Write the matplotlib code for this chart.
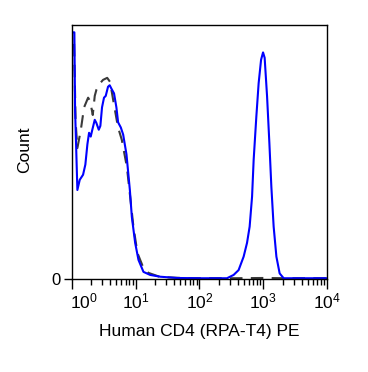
import numpy as np
import matplotlib
matplotlib.use("Agg")
import matplotlib.pyplot as plt
from matplotlib.transforms import ScaledTranslation

plt.rcParams['font.family'] = ['Liberation Sans', 'DejaVu Sans']
plt.rcParams['mathtext.fontset'] = 'custom'
plt.rcParams['mathtext.rm'] = 'Liberation Sans'
plt.rcParams['mathtext.it'] = 'Liberation Sans'

# stained sample (blue), log10 of PE intensity vs count (% of axis height)
stained_log = [0.0, 0.005, 0.041, 0.052, 0.067, 0.088, 0.125, 0.177, 0.213, 0.245, 0.271,
               0.297, 0.322, 0.36, 0.385, 0.423, 0.448, 0.474, 0.505, 0.532, 0.568, 0.594,
               0.62, 0.662, 0.699, 0.726, 0.768, 0.805, 0.857, 0.91, 0.941, 0.993, 1.045,
               1.123, 1.228, 1.385, 1.647, 2.013, 2.431, 2.535, 2.613, 2.692, 2.745, 2.786,
               2.824, 2.849, 2.891, 2.927, 2.965, 2.996, 3.021, 3.059, 3.095, 3.126, 3.162,
               3.205, 3.256, 3.319, 3.6, 4.0]
stained_count = [0, 97, 97, 66.5, 53.5, 35, 39, 41, 45, 53, 57.5,
                 56, 58.7, 62.6, 61.4, 58.7, 60.2, 67.5, 71.3, 72, 75.6, 76.2,
                 74.9, 73, 67.5, 61.6, 59.6, 56.8, 49, 35, 24.4, 14.2, 7.5,
                 2.8, 1.6, 0.9, 0.4, 0.3, 0.3, 1.6, 3.5, 8.8, 14.2, 20.6,
                 32.4, 46.9, 63.9, 77.0, 86.2, 89.1, 87.0, 71.8, 53.5, 36.3, 20.6,
                 8.8, 2.2, 0.3, 0.3, 0.3]

# isotype control (gray dashed)
control_log = [0.0, 0.005, 0.035, 0.06, 0.088, 0.141, 0.193, 0.256, 0.287, 0.329, 0.36,
               0.386, 0.438, 0.49, 0.555, 0.6, 0.648, 0.723, 0.784, 0.863, 0.915, 0.966,
               1.029, 1.123, 1.202, 1.385, 1.8, 2.5, 3.0, 3.4, 4.0]
control_count = [0, 95, 95, 62, 51.5, 58.5, 67.5, 71.3, 70, 64.5, 72,
                 74.4, 76.8, 78.3, 79.1, 77.5, 70.5, 59.8, 54.7, 44.1, 32.3, 20.5,
                 10.2, 4.3, 2.4, 0.8, 0.3, 0.3, 0.4, 0.3, 0.3]

xticks = [1, 10, 100, 1000, 10000]
xticklabels = [r'$10^{0}$', r'$10^{1}$', r'$10^{2}$', r'$10^{3}$', r'$10^{4}$']

fig = plt.figure(figsize=(3.68, 3.72), dpi=100)
ax = fig.add_axes([0.195, 0.25, 0.694, 0.6836])

ax.plot(10 ** np.array(control_log), control_count, color='#3a3a3a', lw=1.5,
        dashes=(6, 4))
ax.plot(10 ** np.array(stained_log), stained_count, color='#0000ff', lw=1.5)

ax.set_xscale('log')
ax.set_xlim(1, 10000)
ax.set_ylim(0, 100)
ax.set_xticks(xticks)
ax.set_xticklabels(xticklabels, fontsize=12.5)
ax.set_yticks([0])
ax.set_yticklabels(['0'], fontsize=12)
ax.tick_params(axis='x', which='major', direction='out', length=7, width=1, pad=2)
ax.tick_params(axis='x', which='minor', direction='out', length=4, width=1)
ax.tick_params(axis='y', direction='out', length=6, width=1, pad=2)

# first label sits to the right of the axis corner in the reference
lab0 = ax.get_xticklabels()[0]
lab0.set_transform(lab0.get_transform() + ScaledTranslation(12 / 100, 0, fig.dpi_scale_trans))

for s in ax.spines.values():
    s.set_linewidth(1)
    s.set_color('black')

ax.set_xlabel('Human CD4 (RPA-T4) PE', fontsize=12.5, va='center')
ax.xaxis.set_label_coords(0.5, -0.205)
ax.set_ylabel('Count', fontsize=12.5, va='center')
ax.yaxis.set_label_coords(-0.183, 0.51)

fig.savefig('out.png', dpi=100)
